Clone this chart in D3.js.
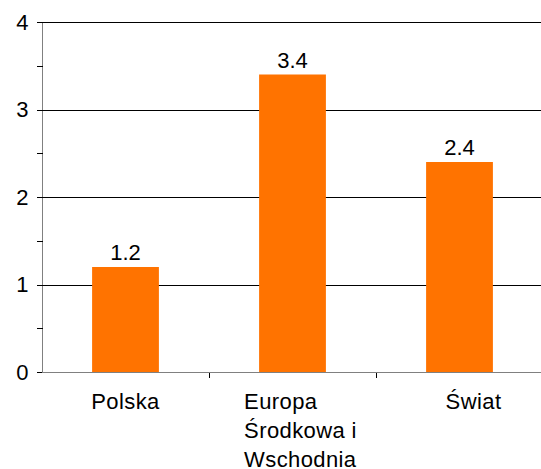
<!DOCTYPE html>
<html>
<head>
<meta charset="utf-8">
<script src="https://cdn.jsdelivr.net/npm/d3@7"></script>
<style>
  body { margin: 0; background: #fff; }
  text { font-family: "Liberation Sans", Arial, sans-serif; fill: #000; font-size: 22px; }
  line, path { shape-rendering: crispEdges; }
</style>
</head>
<body>
<svg id="chart" width="541" height="469"></svg>
<script>
"use strict";

var categories = ["Polska", "Europa Środkowa i Wschodnia", "Świat"];
var labelLines = [["Polska"], ["Europa", "Środkowa i", "Wschodnia"], ["Świat"]];
var values = [1.2, 3.4, 2.4];
var majorTicks = [0, 1, 2, 3, 4];
var minorTicks = [0.5, 1.5, 2.5, 3.5];

(function() {
  var svg = d3.select("#chart");
  var plotLeft = 42, plotRight = 543, plotTop = 22, plotBottom = 372;

  var x = d3.scaleBand().domain(categories).range([plotLeft, plotRight]).paddingInner(0.6).paddingOuter(0.3);
  var xb = d3.scaleBand().domain(categories).range([plotLeft, plotRight]);
  var y = d3.scaleLinear().domain([0, 4]).range([plotBottom, plotTop]);
  var py = function(v) { return Math.round(y(v)) + 0.5; };

  // gridlines
  svg.selectAll(".grid").data(majorTicks.slice(1))
    .enter().append("line")
    .attr("class", "grid")
    .attr("x1", plotLeft).attr("x2", plotRight)
    .attr("y1", py).attr("y2", py)
    .attr("stroke", "#000").attr("stroke-width", 1);

  // bars
  svg.selectAll(".bar").data(values)
    .enter().append("rect")
    .attr("class", "bar")
    .attr("x", function(d, i) { return x(categories[i]); })
    .attr("width", x.bandwidth())
    .attr("y", function(d) { return y(d); })
    .attr("height", function(d) { return y(0) - y(d); })
    .attr("fill", "#ff7300");

  // value labels
  svg.selectAll(".val").data(values)
    .enter().append("text")
    .attr("class", "val")
    .attr("x", function(d, i) { return x(categories[i]) + x.bandwidth() / 2; })
    .attr("y", function(d) { return y(d) - 7; })
    .attr("text-anchor", "middle")
    .text(function(d) { return d.toFixed(1); });

  // y axis
  var yAxis = d3.axisLeft(y).tickValues(majorTicks).tickSize(0).tickPadding(14).tickFormat(d3.format("d"));
  var gy = svg.append("g").attr("transform", "translate(" + (plotLeft + 0.5) + ",0)").call(yAxis);
  gy.selectAll("text").style("font-size", null);
  gy.select(".domain").remove();
  svg.append("line")
    .attr("x1", plotLeft + 0.5).attr("x2", plotLeft + 0.5)
    .attr("y1", plotTop).attr("y2", plotBottom + 1)
    .attr("stroke", "#808080");

  svg.selectAll(".ytick").data(majorTicks.concat(minorTicks))
    .enter().append("line")
    .attr("class", "ytick")
    .attr("x1", plotLeft - 5).attr("x2", plotLeft + 1)
    .attr("y1", py).attr("y2", py)
    .attr("stroke", "#000");

  // x axis
  svg.append("line")
    .attr("x1", plotLeft).attr("x2", plotRight)
    .attr("y1", py(0)).attr("y2", py(0))
    .attr("stroke", "#808080");

  svg.selectAll(".xtick").data(categories)
    .enter().append("line")
    .attr("class", "xtick")
    .attr("x1", function(d) { return Math.round(xb(d) + xb.bandwidth()) + 0.5; })
    .attr("x2", function(d) { return Math.round(xb(d) + xb.bandwidth()) + 0.5; })
    .attr("y1", py(0)).attr("y2", py(0) + 5)
    .attr("stroke", "#000");

  // category labels: lines left-aligned, block centred near band centre
  var labelShift = [0, 8, 14];
  labelLines.forEach(function(lines, i) {
    var t = svg.append("g").selectAll("text").data(lines).enter().append("text")
      .attr("y", function(d, j) { return 409 + j * 29; })
      .style("letter-spacing", "0.4px")
      .text(function(d) { return d; });
    var w = d3.max(t.nodes(), function(n) { return n.getComputedTextLength(); });
    var cx = xb(categories[i]) + xb.bandwidth() / 2 + labelShift[i];
    t.attr("x", cx - w / 2);
  });
})();
</script>
</body>
</html>
